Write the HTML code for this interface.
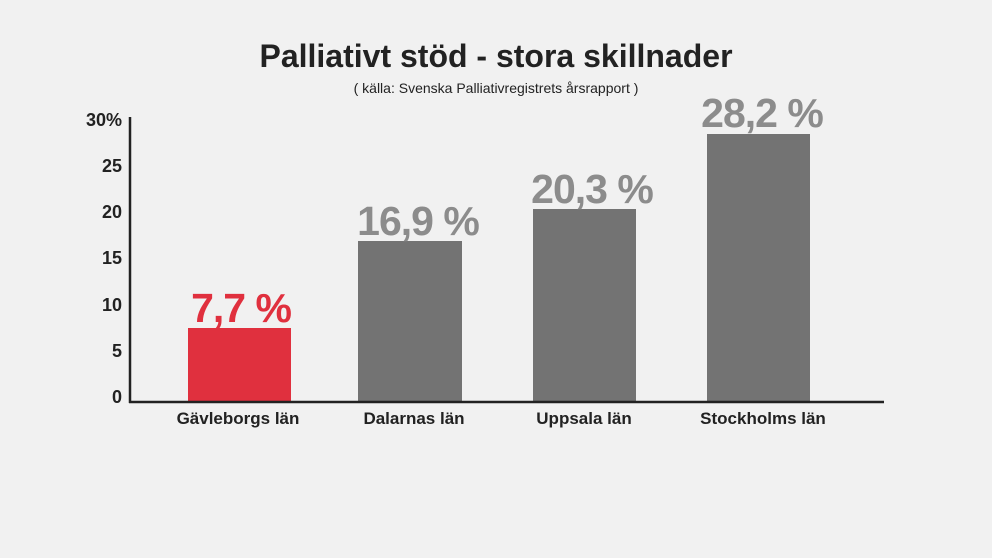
<!DOCTYPE html>
<html><head><meta charset="utf-8"><style>
html,body{margin:0;padding:0;background:#f1f1f1;}
svg{display:block;font-family:"Liberation Sans",sans-serif;font-weight:bold;}
</style></head><body>
<svg width="992" height="558" viewBox="0 0 992 558">
<rect width="992" height="558" fill="#f1f1f1"/>
<text x="496" y="67" text-anchor="middle" font-size="32" fill="#222">Palliativt stöd - stora skillnader</text>
<text x="496" y="93" text-anchor="middle" font-size="14" font-weight="normal" fill="#222">( källa: Svenska Palliativregistrets årsrapport )</text>
<g font-size="18" fill="#222" text-anchor="end">
<text x="122" y="126">30%</text>
<text x="122" y="172">25</text>
<text x="122" y="218">20</text>
<text x="122" y="264">15</text>
<text x="122" y="311">10</text>
<text x="122" y="357">5</text>
<text x="122" y="403">0</text>
</g>
<rect x="188" y="328" width="103" height="73" fill="#e0303e"/>
<rect x="358" y="241" width="104" height="160" fill="#737373"/>
<rect x="533" y="209" width="103" height="192" fill="#737373"/>
<rect x="707" y="134" width="103" height="267" fill="#737373"/>
<line x1="130" y1="117" x2="130" y2="403" stroke="#222" stroke-width="2.5"/>
<line x1="129" y1="402" x2="884" y2="402" stroke="#222" stroke-width="2.5"/>
<g font-size="41" text-anchor="middle" letter-spacing="-1">
<text x="241" y="322" fill="#e0303e">7,7 %</text>
<text x="418" y="235" fill="#8c8c8c">16,9 %</text>
<text x="592" y="203" fill="#8c8c8c">20,3 %</text>
<text x="762" y="127" fill="#8c8c8c">28,2 %</text>
</g>
<g font-size="17" fill="#222" text-anchor="middle">
<text x="238" y="424">Gävleborgs län</text>
<text x="414" y="424">Dalarnas län</text>
<text x="584" y="424">Uppsala län</text>
<text x="763" y="424">Stockholms län</text>
</g>
</svg>
</body></html>
